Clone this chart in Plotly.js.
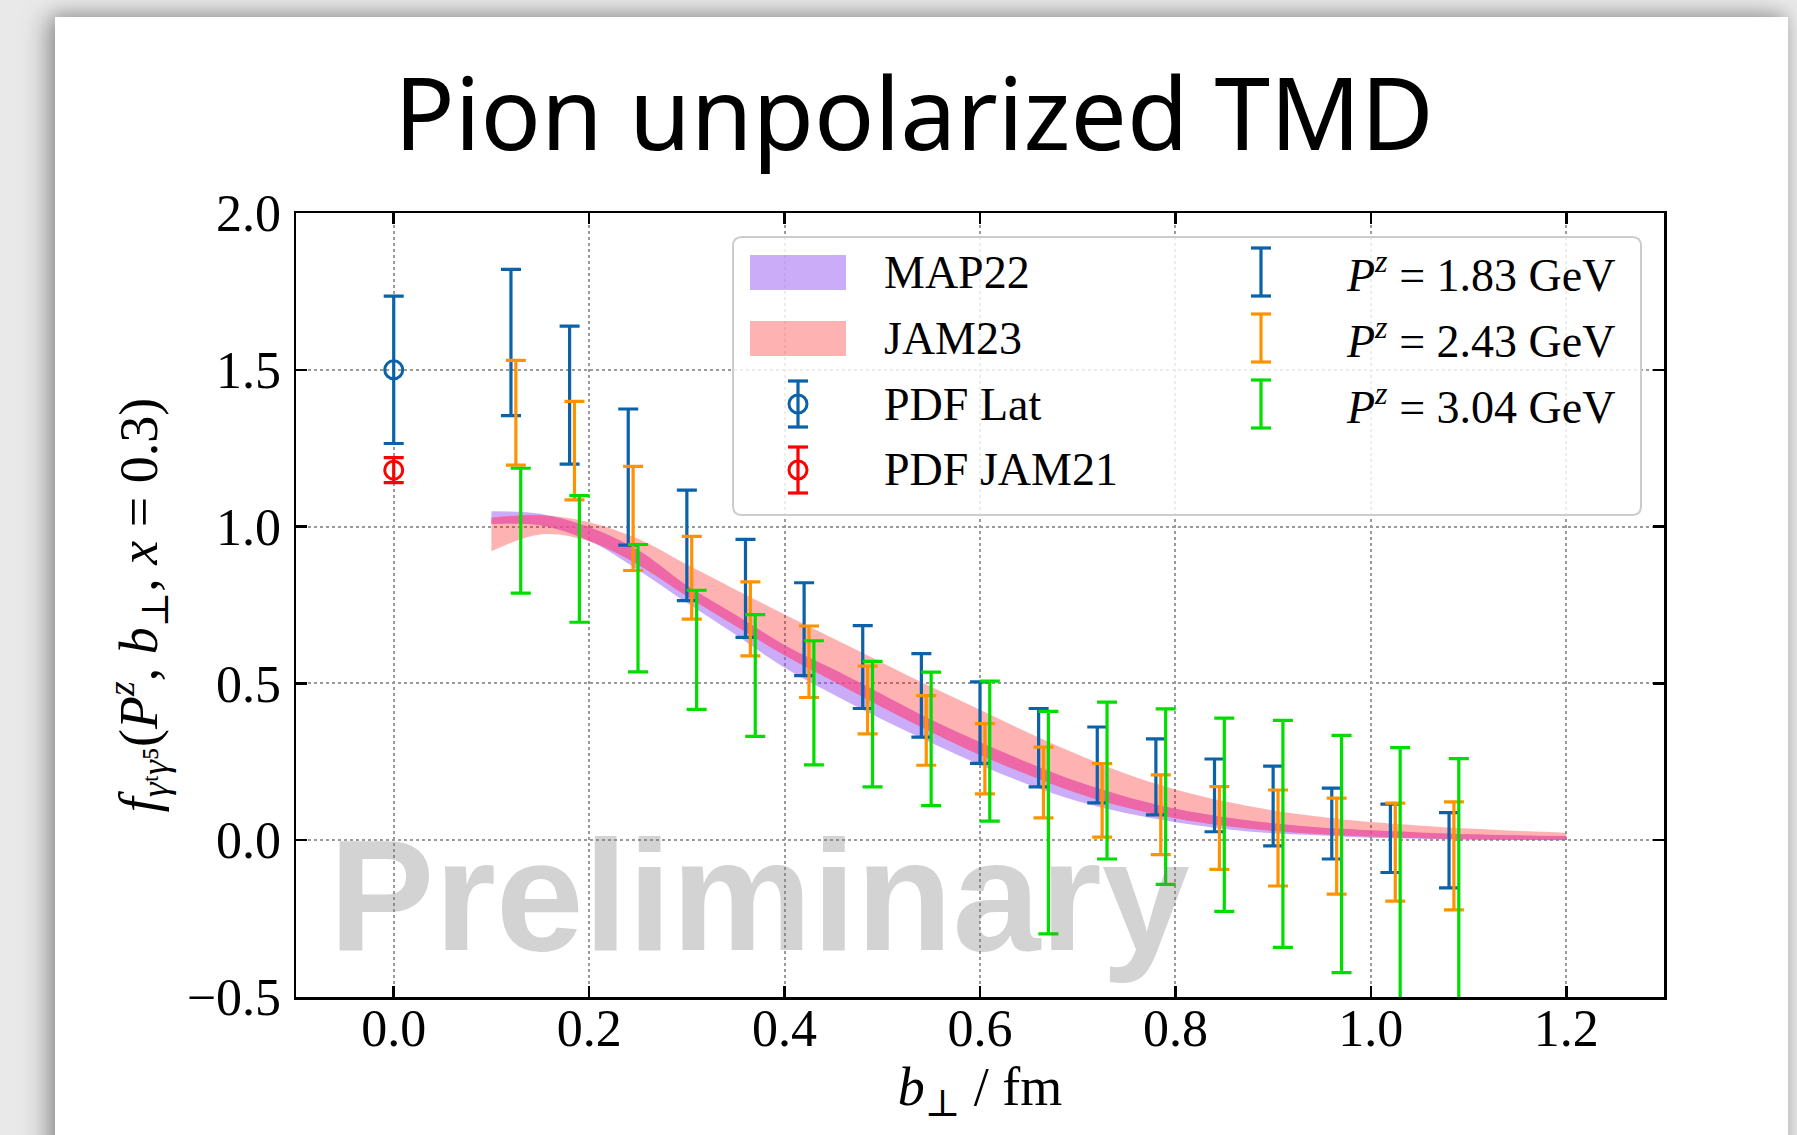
<!DOCTYPE html>
<html><head><meta charset="utf-8">
<script src="https://cdn.plot.ly/plotly-3.0.1.min.js"></script>
<style>
html,body{margin:0;padding:0;width:1797px;height:1135px;overflow:hidden;background:#e9e9e9;}
#card{position:absolute;left:55px;top:17px;width:1733px;height:1200px;background:#fff;box-shadow:-8px 0 24px rgba(0,0,0,0.35),0 -4px 14px rgba(0,0,0,0.12);}
#chart{position:absolute;left:0;top:0;width:1797px;height:1135px;}
</style></head><body><div id="card"></div><div id="chart"></div>
<script>
// ---------------- DATA ----------------
// PDF reference points at b_perp = 0
const pdfLatX = [0.0];
const pdfLatY = [1.50];
const pdfLatErr = [0.235];
const pdfJamX = [0.0];
const pdfJamY = [1.18];
const pdfJamErr = [0.04];

// Lattice TMD, Pz = 1.83 GeV
const bPz183 = [0.12,0.18,0.24,0.30,0.36,0.42,0.48,0.54,0.60,0.66,0.72,0.78,0.84,0.90,0.96,1.02,1.08];
const fPz183 = [1.587,1.419,1.158,0.940,0.803,0.673,0.552,0.462,0.375,0.295,0.240,0.202,0.143,0.109,0.053,0.006,-0.032];
const ePz183 = [0.233,0.220,0.217,0.176,0.156,0.148,0.132,0.133,0.130,0.125,0.121,0.121,0.116,0.127,0.113,0.109,0.120];

// Pz = 2.43 GeV
const bPz243 = [0.125,0.185,0.245,0.305,0.365,0.425,0.485,0.545,0.605,0.665,0.725,0.785,0.845,0.905,0.965,1.025,1.085];
const fPz243 = [1.363,1.242,1.026,0.837,0.706,0.569,0.447,0.350,0.260,0.184,0.127,0.081,0.039,0.007,-0.019,-0.038,-0.050];
const ePz243 = [0.167,0.157,0.166,0.132,0.118,0.114,0.108,0.111,0.112,0.113,0.117,0.127,0.132,0.153,0.153,0.156,0.172];

// Pz = 3.04 GeV
const bPz304 = [0.13,0.19,0.25,0.31,0.37,0.43,0.49,0.55,0.61,0.67,0.73,0.79,0.85,0.91,0.97,1.03,1.09];
const fPz304 = [0.987,0.897,0.740,0.607,0.525,0.438,0.370,0.323,0.284,0.056,0.190,0.139,0.081,0.020,-0.044,-0.150,-0.200];
const ePz304 = [0.199,0.202,0.203,0.190,0.194,0.198,0.200,0.213,0.223,0.355,0.250,0.280,0.308,0.362,0.378,0.445,0.460];

// Phenomenology bands
const bBand = [0.10,0.15,0.20,0.25,0.30,0.35,0.40,0.45,0.50,0.55,0.60,0.65,0.70,0.75,0.80,0.85,0.90,0.95,1.00,1.10,1.20];
const map22Lo = [1.008,1.004,0.955,0.862,0.757,0.655,0.550,0.465,0.385,0.311,0.240,0.177,0.124,0.086,0.057,0.036,0.022,0.015,0.008,0.002,0.000];
const map22Hi = [1.049,1.041,0.998,0.925,0.812,0.718,0.622,0.545,0.465,0.384,0.312,0.246,0.186,0.138,0.100,0.073,0.054,0.040,0.032,0.019,0.013];
const jam23Lo = [0.921,0.975,0.953,0.879,0.778,0.683,0.590,0.507,0.424,0.345,0.272,0.208,0.150,0.104,0.070,0.046,0.030,0.019,0.012,0.003,0.001];
const jam23Hi = [1.028,1.036,1.014,0.961,0.879,0.799,0.720,0.643,0.566,0.489,0.416,0.342,0.273,0.211,0.162,0.124,0.095,0.074,0.058,0.037,0.024];

// Tick labels
const xTickVals = [0.0,0.2,0.4,0.6,0.8,1.0,1.2];
const xTickText = ['0.0','0.2','0.4','0.6','0.8','1.0','1.2'];
const yTickVals = [-0.5,0.0,0.5,1.0,1.5,2.0];
const yTickText = ['\u22120.5','0.0','0.5','1.0','1.5','2.0'];

// Legend labels
const legendLeft = ['MAP22','JAM23','PDF Lat','PDF JAM21'];
const legendRight = ['<i>P</i><sup><i>z</i></sup> = 1.83 GeV','<i>P</i><sup><i>z</i></sup> = 2.43 GeV','<i>P</i><sup><i>z</i></sup> = 3.04 GeV'];

// ---------------- STYLE ----------------
const C_BLUE = '#0b62a8', C_ORANGE = '#ff9200', C_GREEN = '#00dd00', C_RED = '#ff0000';
const F_MAP = 'rgba(140,70,240,0.45)', F_JAM = 'rgba(255,0,0,0.30)', F_OVL = 'rgba(255,90,160,0.55)';
const SERIF = 'Liberation Serif, Times New Roman, DejaVu Serif, serif';

const ovLo = bBand.map((_, i) => Math.max(map22Lo[i], jam23Lo[i]));
const ovHi = bBand.map((_, i) => Math.min(map22Hi[i], jam23Hi[i]));

function band(lo, hi, fill) {
  return [
    {x: bBand, y: lo, mode: 'lines', line: {width: 0, shape: 'spline', smoothing: 1.0}, showlegend: false, hoverinfo: 'skip'},
    {x: bBand, y: hi, mode: 'lines', line: {width: 0, shape: 'spline', smoothing: 1.0}, fill: 'tonexty', fillcolor: fill, showlegend: false, hoverinfo: 'skip'}
  ];
}
function ebars(x, y, e, color) {
  return {x: x, y: y, mode: 'markers', marker: {size: 1, color: 'rgba(0,0,0,0)'},
    error_y: {type: 'data', array: e, visible: true, color: color, thickness: 3.2, width: 10},
    showlegend: false, hoverinfo: 'x+y'};
}

const traces = [].concat(
  band(map22Lo, map22Hi, F_MAP),
  band(jam23Lo, jam23Hi, F_JAM),
  band(ovLo, ovHi, F_OVL),
  [
    {x: pdfLatX, y: pdfLatY, mode: 'markers', marker: {symbol: 'circle-open', size: 18, color: C_BLUE, line: {width: 3, color: C_BLUE}},
      error_y: {type: 'data', array: pdfLatErr, visible: true, color: C_BLUE, thickness: 3.2, width: 10}, showlegend: false},
    {x: pdfJamX, y: pdfJamY, mode: 'markers', marker: {symbol: 'circle-open', size: 18, color: C_RED, line: {width: 3, color: C_RED}},
      error_y: {type: 'data', array: pdfJamErr, visible: true, color: C_RED, thickness: 3.2, width: 10}, showlegend: false},
    ebars(bPz183, fPz183, ePz183, C_BLUE),
    ebars(bPz243, fPz243, ePz243, C_ORANGE),
    ebars(bPz304, fPz304, ePz304, C_GREEN)
  ]
);

// ---------------- LAYOUT (manual legend in pixel -> paper) ----------------
const PL = 296, PR = 1664, PT = 213, PB = 997;
const px = X => (X - PL) / (PR - PL);
const py = Y => (PB - Y) / (PB - PT);

function roundedBox(x0, y0, x1, y1, r) {
  const rx = r / (PR - PL), ry = r / (PB - PT);
  const a = px(x0), b = px(x1), t = py(y0), u = py(y1);
  return `M ${a+rx},${t} L ${b-rx},${t} Q ${b},${t} ${b},${t-ry} L ${b},${u+ry} Q ${b},${u} ${b-rx},${u} L ${a+rx},${u} Q ${a},${u} ${a},${u+ry} L ${a},${t-ry} Q ${a},${t} ${a+rx},${t} Z`;
}
function line(x0, y0, x1, y1, color, w) {
  return {type: 'line', xref: 'paper', yref: 'paper', x0: px(x0), y0: py(y0), x1: px(x1), y1: py(y1), line: {color: color, width: w}, layer: 'above'};
}
function ibar(cx, cy, half, cap, color) {
  return [line(cx, cy - half, cx, cy + half, color, 3.2), line(cx - cap, cy - half, cx + cap, cy - half, color, 3.2), line(cx - cap, cy + half, cx + cap, cy + half, color, 3.2)];
}
function circ(cx, cy, r, color) {
  return {type: 'circle', xref: 'paper', yref: 'paper', x0: px(cx - r), x1: px(cx + r), y0: py(cy + r), y1: py(cy - r), line: {color: color, width: 3}, fillcolor: 'rgba(0,0,0,0)', layer: 'above'};
}

const rowsL = [272, 338, 404, 470];
const rowsR = [272, 338, 404];
const shapes = [
  {type: 'path', xref: 'paper', yref: 'paper', path: roundedBox(733, 237, 1641, 515, 9), fillcolor: 'rgba(255,255,255,0.82)', line: {color: '#cccccc', width: 2}, layer: 'above'},
  {type: 'rect', xref: 'paper', yref: 'paper', x0: px(750), x1: px(846), y0: py(290), y1: py(255), fillcolor: F_MAP, line: {width: 0}, layer: 'above'},
  {type: 'rect', xref: 'paper', yref: 'paper', x0: px(750), x1: px(846), y0: py(356), y1: py(321), fillcolor: F_JAM, line: {width: 0}, layer: 'above'}
].concat(
  ibar(798, rowsL[2], 23, 10, C_BLUE), [circ(798, rowsL[2], 9, C_BLUE)],
  ibar(798, rowsL[3], 23, 10, C_RED), [circ(798, rowsL[3], 9, C_RED)],
  ibar(1261, rowsR[0], 24, 10, C_BLUE),
  ibar(1261, rowsR[1], 24, 10, C_ORANGE),
  ibar(1261, rowsR[2], 24, 10, C_GREEN)
);

const annotations = [
  {text: 'Preliminary', xref: 'paper', yref: 'paper', x: px(759), y: py(895), xanchor: 'center', yanchor: 'middle', showarrow: false,
    font: {family: 'Liberation Sans, Arial, sans-serif', size: 158, weight: 700, color: 'rgba(120,120,120,0.33)'}}
];
legendLeft.forEach((t, i) => annotations.push({text: t, xref: 'paper', yref: 'paper', x: px(882), y: py(rowsL[i]), xanchor: 'left', yanchor: 'middle', showarrow: false, font: {family: SERIF, size: 46, color: '#000'}}));
legendRight.forEach((t, i) => annotations.push({text: t, xref: 'paper', yref: 'paper', x: px(1344), y: py(rowsR[i]), xanchor: 'left', yanchor: 'middle', showarrow: false, font: {family: SERIF, size: 46, color: '#000'}}));

const axisCommon = {
  showline: true, linecolor: '#000', linewidth: 2.5, mirror: 'allticks',
  ticks: 'inside', ticklen: 11, tickwidth: 2.5, tickcolor: '#000',
  showgrid: true, gridcolor: '#9a9a9a', gridwidth: 2, griddash: 'dot',
  zeroline: false, automargin: false,
  tickfont: {family: SERIF, size: 52, color: '#000'}
};

const layout = {
  width: 1797, height: 1135,
  paper_bgcolor: 'rgba(0,0,0,0)', plot_bgcolor: '#ffffff',
  margin: {l: PL, r: 1797 - PR, t: PT, b: 1135 - PB, pad: 0},
  showlegend: false,
  title: {text: 'Pion unpolarized TMD', font: {family: 'Noto Sans, sans-serif', size: 100, color: '#000'},
    x: 914 / 1797, xref: 'container', xanchor: 'center', y: 1 - 115 / 1135, yref: 'container', yanchor: 'middle'},
  xaxis: Object.assign({}, axisCommon, {range: [-0.1, 1.3], tickvals: xTickVals, ticktext: xTickText, ticklabelstandoff: -16,
    title: {text: '<i>b</i><sub>\u22a5</sub> / fm', font: {family: SERIF, size: 54, color: '#000'}, standoff: 11}}),
  yaxis: Object.assign({}, axisCommon, {range: [-0.5, 2.0], tickvals: yTickVals, ticktext: yTickText, ticklabelstandoff: 2,
    title: {text: '<i>f</i><sub><i>\u03b3</i>\u1d57<i>\u03b3</i>\u2075</sub>(<i>P</i><sup><i>z</i></sup>, <i>b</i><sub>\u22a5</sub>, <i>x</i> = 0.3)', font: {family: SERIF, size: 54, color: '#000'}, standoff: 12}}),
  shapes: shapes,
  annotations: annotations
};

Plotly.newPlot('chart', traces, layout, {displayModeBar: false, staticPlot: true});
</script></body></html>
